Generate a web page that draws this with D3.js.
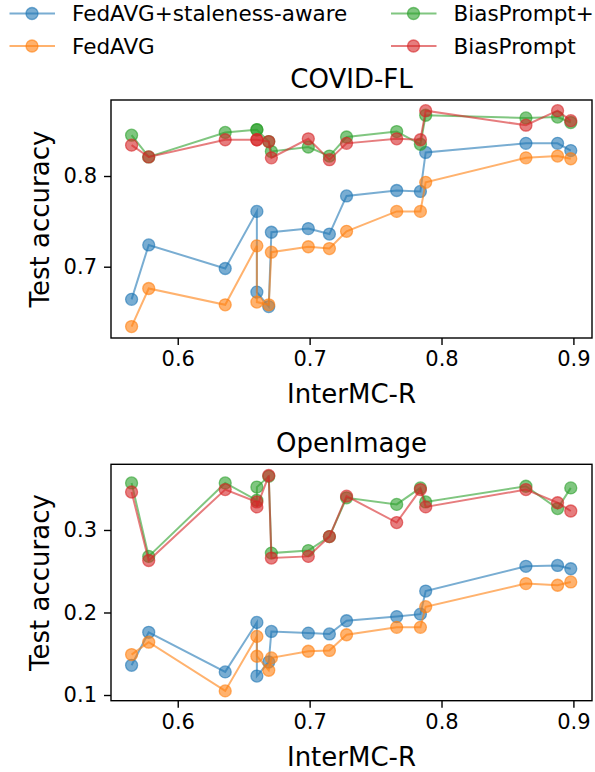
<!DOCTYPE html>
<html>
<head>
<meta charset="utf-8">
<script src="https://cdn.jsdelivr.net/npm/d3@7"></script>
<style>
  body { margin: 0; background: #fff; }
  svg text { font-family: "DejaVu Sans", sans-serif; fill: #000; }
</style>
</head>
<body>
<div id="chart"></div>
<script>
// InterMC-R values, shared by every series in both panels
var interMC = [0.565, 0.578, 0.636, 0.660, 0.660, 0.669, 0.671, 0.699, 0.715, 0.728, 0.766, 0.784, 0.788, 0.864, 0.888, 0.898];

var seriesNames = ["FedAVG+staleness-aware", "FedAVG", "BiasPrompt+", "BiasPrompt"];
var seriesColors = ["#1f77b4", "#ff7f0e", "#2ca02c", "#d62728"];

// COVID-FL
var covidStale = [0.664, 0.724, 0.698, 0.761, 0.672, 0.656, 0.738, 0.742, 0.736, 0.778, 0.784, 0.783, 0.826, 0.836, 0.836, 0.828];
var covidFedavg = [0.634, 0.676, 0.658, 0.723, 0.661, 0.658, 0.716, 0.722, 0.720, 0.739, 0.761, 0.761, 0.793, 0.820, 0.822, 0.819];
var covidBiasPlus = [0.845, 0.821, 0.848, 0.851, 0.851, 0.838, 0.827, 0.832, 0.822, 0.843, 0.849, 0.835, 0.867, 0.864, 0.865, 0.859];
var covidBias = [0.834, 0.821, 0.840, 0.840, 0.840, 0.838, 0.820, 0.841, 0.818, 0.836, 0.841, 0.840, 0.872, 0.856, 0.872, 0.861];

// OpenImage
var openStale = [0.136, 0.176, 0.128, 0.188, 0.123, 0.140, 0.177, 0.175, 0.174, 0.190, 0.195, 0.198, 0.226, 0.256, 0.257, 0.253];
var openFedavg = [0.149, 0.164, 0.105, 0.171, 0.147, 0.130, 0.145, 0.153, 0.154, 0.173, 0.182, 0.182, 0.207, 0.235, 0.233, 0.237];
var openBiasPlus = [0.357, 0.268, 0.357, 0.336, 0.352, 0.365, 0.272, 0.275, 0.292, 0.339, 0.331, 0.351, 0.334, 0.353, 0.326, 0.351];
var openBias = [0.346, 0.263, 0.349, 0.334, 0.328, 0.366, 0.266, 0.268, 0.292, 0.341, 0.309, 0.349, 0.328, 0.349, 0.333, 0.323];

var xTicks = [0.6, 0.7, 0.8, 0.9];
var covidYTicks = [0.7, 0.8];
var openYTicks = [0.1, 0.2, 0.3];

var width = 595,
    height = 772;

var svg = d3.select("#chart").append("svg")
    .attr("width", width)
    .attr("height", height);

var left = 111, right = 592;
var markerR = 6;

var panels = [
  { title: "COVID-FL", top: 100, bottom: 338, ydom: [0.6214, 0.8838], yticks: covidYTicks,
    series: [covidStale, covidFedavg, covidBiasPlus, covidBias] },
  { title: "OpenImage", top: 464.3, bottom: 700.7, ydom: [0.0931, 0.3796], yticks: openYTicks,
    series: [openStale, openFedavg, openBiasPlus, openBias] }
];

var x = d3.scaleLinear()
    .domain([0.5494, 0.9141])
    .range([left, right]);

panels.forEach(function(p) {
  var y = d3.scaleLinear()
      .domain(p.ydom)
      .range([p.bottom, p.top]);

  var g = svg.append("g");

  // series: line first, then markers, like matplotlib
  p.series.forEach(function(vals, i) {
    var pts = vals.map(function(v, j) { return [interMC[j], v]; });
    var line = d3.line()
        .x(function(d) { return x(d[0]); })
        .y(function(d) { return y(d[1]); });
    g.append("path")
        .datum(pts)
        .attr("d", line)
        .attr("fill", "none")
        .attr("stroke", seriesColors[i])
        .attr("stroke-opacity", 0.6)
        .attr("stroke-width", 2);
    g.selectAll(null)
        .data(pts)
        .enter().append("circle")
        .attr("cx", function(d) { return x(d[0]); })
        .attr("cy", function(d) { return y(d[1]); })
        .attr("r", markerR)
        .attr("fill", seriesColors[i])
        .attr("fill-opacity", 0.6)
        .attr("stroke", seriesColors[i])
        .attr("stroke-opacity", 0.6)
        .attr("stroke-width", 1.3);
  });

  // axes
  var xAxis = svg.append("g")
      .attr("transform", "translate(0," + p.bottom + ")")
      .call(d3.axisBottom(x).tickValues(xTicks).tickSize(7).tickPadding(6).tickFormat(d3.format(".1f")));
  var yAxis = svg.append("g")
      .attr("transform", "translate(" + left + ",0)")
      .call(d3.axisLeft(y).tickValues(p.yticks).tickSize(7).tickPadding(7).tickFormat(d3.format(".1f")));
  [xAxis, yAxis].forEach(function(a) {
    a.select(".domain").remove();
    a.selectAll(".tick line").attr("stroke", "#000").attr("stroke-width", 1.4);
    a.selectAll(".tick text")
        .attr("font-size", 21)
        .attr("font-family", "DejaVu Sans");
  });

  // frame
  svg.append("rect")
      .attr("x", left)
      .attr("y", p.top)
      .attr("width", right - left)
      .attr("height", p.bottom - p.top)
      .attr("fill", "none")
      .attr("stroke", "#000")
      .attr("stroke-width", 1.4);

  svg.append("text")
      .attr("x", (left + right) / 2)
      .attr("y", p.top - 12)
      .attr("text-anchor", "middle")
      .attr("font-size", 26)
      .text(p.title);

  svg.append("text")
      .attr("x", (left + right) / 2)
      .attr("y", p.bottom + 65)
      .attr("text-anchor", "middle")
      .attr("font-size", 26)
      .text("InterMC-R");

  svg.append("text")
      .attr("transform", "translate(49," + ((p.top + p.bottom) / 2) + ") rotate(-90)")
      .attr("text-anchor", "middle")
      .attr("font-size", 26)
      .text("Test accuracy");
});

// legend (two columns)
var legendPos = [[9.5, 13.5], [9.5, 46], [391, 13.5], [391, 46]];
seriesNames.forEach(function(name, i) {
  var lg = svg.append("g")
      .attr("transform", "translate(" + legendPos[i][0] + "," + legendPos[i][1] + ")");
  lg.append("line")
      .attr("x1", 0).attr("x2", 45.5)
      .attr("stroke", seriesColors[i])
      .attr("stroke-opacity", 0.6)
      .attr("stroke-width", 2);
  lg.append("circle")
      .attr("cx", 22.5)
      .attr("r", markerR)
      .attr("fill", seriesColors[i])
      .attr("fill-opacity", 0.6)
      .attr("stroke", seriesColors[i])
      .attr("stroke-opacity", 0.6)
      .attr("stroke-width", 1.3);
  lg.append("text")
      .attr("x", 62.5)
      .attr("y", 7.8)
      .attr("font-size", 21.5)
      .text(name);
});
</script>
</body>
</html>
